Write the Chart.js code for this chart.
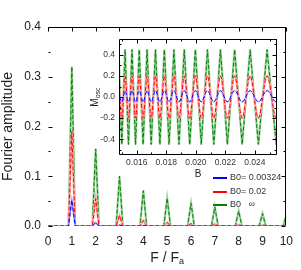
<!DOCTYPE html>
<html>
<head>
<meta charset="utf-8">
<script src="https://cdn.jsdelivr.net/npm/chart.js@4.4.0/dist/chart.umd.min.js"></script>
<style>
  html, body { margin: 0; padding: 0; background: #fff; }
  #wrap { position: relative; width: 301px; height: 270px; }
  #main { position: absolute; left: 0; top: 0; }
  #inset { position: absolute; left: 86px; top: 30px; }
</style>
</head>
<body>
<div id="wrap">
  <canvas id="main" width="301" height="270"></canvas>
  <canvas id="inset" width="196" height="150"></canvas>
</div>
<script>
// main panel: Fourier peak heights at F/Fa = 1..10
var harmonic  = [1, 2, 3, 4, 5, 6, 7, 8, 9, 10];
var peakBlue  = [0.052, 0.007, 0.002, 0.001, 0.001, 0.0005, 0.0005, 0.0003, 0.0003, 0.0002];
var peakRed   = [0.190, 0.055, 0.021, 0.011, 0.007, 0.005, 0.004, 0.003, 0.002, 0.002];
var peakGreen = [0.320, 0.155, 0.100, 0.071, 0.056, 0.046, 0.038, 0.030, 0.025, 0.021];
var mainXTicks = [0, 1, 2, 3, 4, 5, 6, 7, 8, 9, 10];
var mainYTicks = [0, 0.1, 0.2, 0.3, 0.4];

// inset: B of the oscillation maxima / minima, and the extreme values per curve
var insetMaxB = [0.01477, 0.01521, 0.01568, 0.01617, 0.01670, 0.01727, 0.01787, 0.01852,
                 0.01922, 0.01997, 0.02079, 0.02167, 0.02263, 0.02368, 0.02483, 0.02610];
var insetMinB = [0.01499, 0.01544, 0.01592, 0.01643, 0.01698, 0.01757, 0.01819, 0.01886,
                 0.01959, 0.02037, 0.02122, 0.02214, 0.02314, 0.02424, 0.02545];
var blueHiLo  = [0.06, -0.045];
var redHiLo   = [0.20, -0.20];
var greenHiLo = [0.45, -0.45];
var insetXTicks = [0.016, 0.018, 0.020, 0.022, 0.024];
var insetYTicks = [-0.4, -0.2, 0, 0.2, 0.4];

var legendLabels = ['B0= 0.00324', 'B0= 0.02', 'B0   \u221e'];
var colBlue = '#0000ff', colRed = '#ff0000', colGreen = '#0b7d0b';

function peaks(h) {
  var pts = [{x: 0, y: 0}];
  harmonic.forEach(function (n, i) {
    pts.push({x: n - 0.14, y: 0}, {x: n, y: h[i]}, {x: n + 0.14, y: 0});
  });
  return pts;
}

function osc(hl) {
  var pts = insetMaxB.map(function (b) { return {x: b, y: hl[0]}; })
    .concat(insetMinB.map(function (b) { return {x: b, y: hl[1]}; }));
  return pts.sort(function (a, b) { return a.x - b.x; });
}

function pair(data, dark, light, tension, lw) {
  return [
    {data: data, borderColor: dark, borderWidth: 1, borderDash: [4, 2], tension: tension},
    {data: data, borderColor: light, borderWidth: lw, tension: tension}
  ];
}

var tickFont = {family: 'Liberation Sans, Arial, sans-serif', size: 12};

// inward tick marks + frame
var frame = {
  id: 'frame',
  afterDatasetsDraw: function (chart, args, o) {
    var ctx = chart.ctx, a = chart.chartArea, xs = chart.scales.x, ys = chart.scales.y;
    ctx.save();
    ctx.strokeStyle = '#000';
    ctx.lineWidth = 1;
    ctx.beginPath();
    var L = Math.round(a.left) + 0.5, R = Math.round(a.right) - 0.5;
    var T = Math.round(a.top) + 0.5, B = Math.round(a.bottom) - 0.5;
    if (o.sides.indexOf('top') >= 0) { ctx.moveTo(L, T); ctx.lineTo(R + 0.5, T); }
    if (o.sides.indexOf('right') >= 0) { ctx.moveTo(R, T); ctx.lineTo(R, B); }
    if (o.sides.indexOf('bottom') >= 0) { ctx.moveTo(L, B); ctx.lineTo(R, B); }
    if (o.sides.indexOf('left') >= 0) { ctx.moveTo(L, T); ctx.lineTo(L, B); }
    o.xMarks.forEach(function (m) {
      var px = Math.round(xs.getPixelForValue(m[0])) + 0.5;
      if (px < a.left - 1 || px > a.right + 1) return;
      if (o.xTop) { ctx.moveTo(px, T); ctx.lineTo(px, T + m[1]); }
      if (o.xBottom) { ctx.moveTo(px, B); ctx.lineTo(px, B - m[1]); }
    });
    o.yMarks.forEach(function (m) {
      var py = Math.round(ys.getPixelForValue(m[0])) + 0.5;
      if (py < a.top - 1 || py > a.bottom + 1) return;
      if (o.yLeft) { ctx.moveTo(L, py); ctx.lineTo(L + m[1], py); }
      if (o.yRight) { ctx.moveTo(R, py); ctx.lineTo(R - m[1], py); }
    });
    ctx.stroke();
    ctx.restore();
  }
};

var mainExtras = {
  id: 'mainExtras',
  afterDraw: function (chart) {
    var ctx = chart.ctx, a = chart.chartArea;
    ctx.save();
    // x title F / Fa
    var cx = (a.left + a.right) / 2, cy = 258;
    ctx.fillStyle = '#222';
    ctx.textBaseline = 'middle';
    ctx.font = '14px Liberation Sans, Arial, sans-serif';
    var w1 = ctx.measureText('F / F').width;
    ctx.font = '9px Liberation Sans, Arial, sans-serif';
    var w2 = ctx.measureText('a').width;
    var x0 = cx - (w1 + w2) / 2;
    ctx.font = '14px Liberation Sans, Arial, sans-serif';
    ctx.fillText('F / F', x0, cy);
    ctx.font = '9px Liberation Sans, Arial, sans-serif';
    ctx.fillText('a', x0 + w1, cy + 4);
    // legend
    var cols = [colBlue, colRed, colGreen], rows = [178, 192, 205];
    ctx.font = '9px Liberation Sans, Arial, sans-serif';
    legendLabels.forEach(function (t, i) {
      ctx.strokeStyle = cols[i];
      ctx.lineWidth = 2;
      ctx.beginPath();
      ctx.moveTo(213, rows[i]);
      ctx.lineTo(227, rows[i]);
      ctx.stroke();
      ctx.fillStyle = '#333';
      ctx.fillText(t, 230, rows[i]);
    });
    ctx.restore();
  }
};

var mainY = [], mainX = [];
for (var i = 0; i <= 8; i++) mainY.push([i * 0.05, i % 2 ? 2 : 4]);
for (var j = 0; j <= 10; j++) mainX.push([j, 4]);

new Chart(document.getElementById('main'), {
  type: 'line',
  data: {
    datasets: [].concat(
      pair(peaks(peakBlue), colBlue, '#9a9aff', 0, 1.6),
      pair(peaks(peakRed), colRed, '#ffb0b0', 0, 2.2),
      pair(peaks(peakGreen), colGreen, '#9ad39a', 0, 2.2)
    )
  },
  options: {
    responsive: false,
    animation: false,
    layout: {padding: {top: 27, right: 14, left: 0, bottom: 0}},
    elements: {point: {radius: 0}},
    plugins: {
      legend: {display: false},
      tooltip: {enabled: false},
      frame: {sides: ['top', 'right'], xMarks: mainX, yMarks: mainY, xTop: true, yLeft: true, yRight: true}
    },
    scales: {
      x: {
        type: 'linear', min: 0, max: 10,
        afterFit: function (s) { s.height = 44; },
        afterBuildTicks: function (s) { s.ticks = mainXTicks.map(function (v) { return {value: v}; }); },
        grid: {display: false, drawTicks: false},
        border: {display: false},
        ticks: {font: tickFont, color: '#222', padding: 8, maxRotation: 0,
                callback: function (v) { return String(v); }}
      },
      y: {
        min: 0, max: 0.4,
        afterFit: function (s) { s.width = 48; },
        afterBuildTicks: function (s) { s.ticks = mainYTicks.map(function (v) { return {value: v}; }); },
        grid: {display: false, drawTicks: false},
        border: {display: false},
        ticks: {font: tickFont, color: '#222', padding: 7,
                callback: function (v) { return v.toFixed(1); }},
        title: {display: true, text: 'Fourier amplitude', color: '#222',
                font: {family: 'Liberation Sans, Arial, sans-serif', size: 14}, padding: {top: 0, bottom: 4}}
      }
    }
  },
  plugins: [frame, mainExtras]
});

// inset
var insetExtras = {
  id: 'insetExtras',
  beforeDatasetsDraw: function (chart) {
    var ctx = chart.ctx, a = chart.chartArea;
    ctx.save();
    ctx.fillStyle = '#fff';
    ctx.fillRect(a.left, a.top, a.right - a.left, a.bottom - a.top);
    ctx.restore();
  },
  afterDraw: function (chart) {
    var ctx = chart.ctx, a = chart.chartArea;
    ctx.save();
    ctx.translate(9, (a.top + a.bottom) / 2);
    ctx.rotate(-Math.PI / 2);
    ctx.fillStyle = '#222';
    ctx.textBaseline = 'middle';
    ctx.font = '10px Liberation Sans, Arial, sans-serif';
    var w1 = ctx.measureText('M').width;
    ctx.font = '7px Liberation Sans, Arial, sans-serif';
    var w2 = ctx.measureText('osc').width;
    ctx.font = '10px Liberation Sans, Arial, sans-serif';
    ctx.fillText('M', -(w1 + w2) / 2, 0);
    ctx.font = '7px Liberation Sans, Arial, sans-serif';
    ctx.fillText('osc', -(w1 + w2) / 2 + w1, 3);
    ctx.restore();
  }
};

var inX = [], inY = [];
for (var k = 15; k <= 25; k++) inX.push([k / 1000, k % 2 ? 2 : 4]);
for (var m = -5; m <= 5; m++) inY.push([m / 10, m % 2 ? 2 : 4]);
var smallFont = {family: 'Liberation Sans, Arial, sans-serif', size: 8.5};

new Chart(document.getElementById('inset'), {
  type: 'line',
  data: {
    datasets: [].concat(
      pair(osc(blueHiLo), colBlue, '#b4b4ff', 0.4, 1.2),
      pair(osc(redHiLo), colRed, '#ffb0b0', 0.35, 2.2),
      pair(osc(greenHiLo), colGreen, '#9ad39a', 0, 2.2)
    )
  },
  options: {
    responsive: false,
    animation: false,
    layout: {padding: {top: 5, right: 5, left: 0, bottom: 0}},
    elements: {point: {radius: 0}},
    plugins: {
      legend: {display: false},
      tooltip: {enabled: false},
      frame: {sides: ['top', 'right', 'bottom', 'left'], xMarks: inX, yMarks: inY,
              xTop: true, xBottom: true, yLeft: true, yRight: true}
    },
    scales: {
      x: {
        type: 'linear', min: 0.0148, max: 0.0255,
        afterFit: function (s) { s.height = 25; },
        afterBuildTicks: function (s) { s.ticks = insetXTicks.map(function (v) { return {value: v}; }); },
        grid: {display: false, drawTicks: false},
        border: {display: false},
        ticks: {font: smallFont, color: '#333', padding: 3, maxRotation: 0,
                callback: function (v) { return v.toFixed(3); }},
        title: {display: true, text: 'B', color: '#222',
                font: {family: 'Liberation Sans, Arial, sans-serif', size: 10}, padding: {top: 0, bottom: 0}}
      },
      y: {
        min: -0.55, max: 0.55,
        afterFit: function (s) { s.width = 33; },
        afterBuildTicks: function (s) { s.ticks = insetYTicks.map(function (v) { return {value: v}; }); },
        grid: {display: false, drawTicks: false},
        border: {display: false},
        ticks: {font: smallFont, color: '#333', padding: 4,
                callback: function (v) { return v.toFixed(1); }}
      }
    }
  },
  plugins: [frame, insetExtras]
});
</script>
</body>
</html>
